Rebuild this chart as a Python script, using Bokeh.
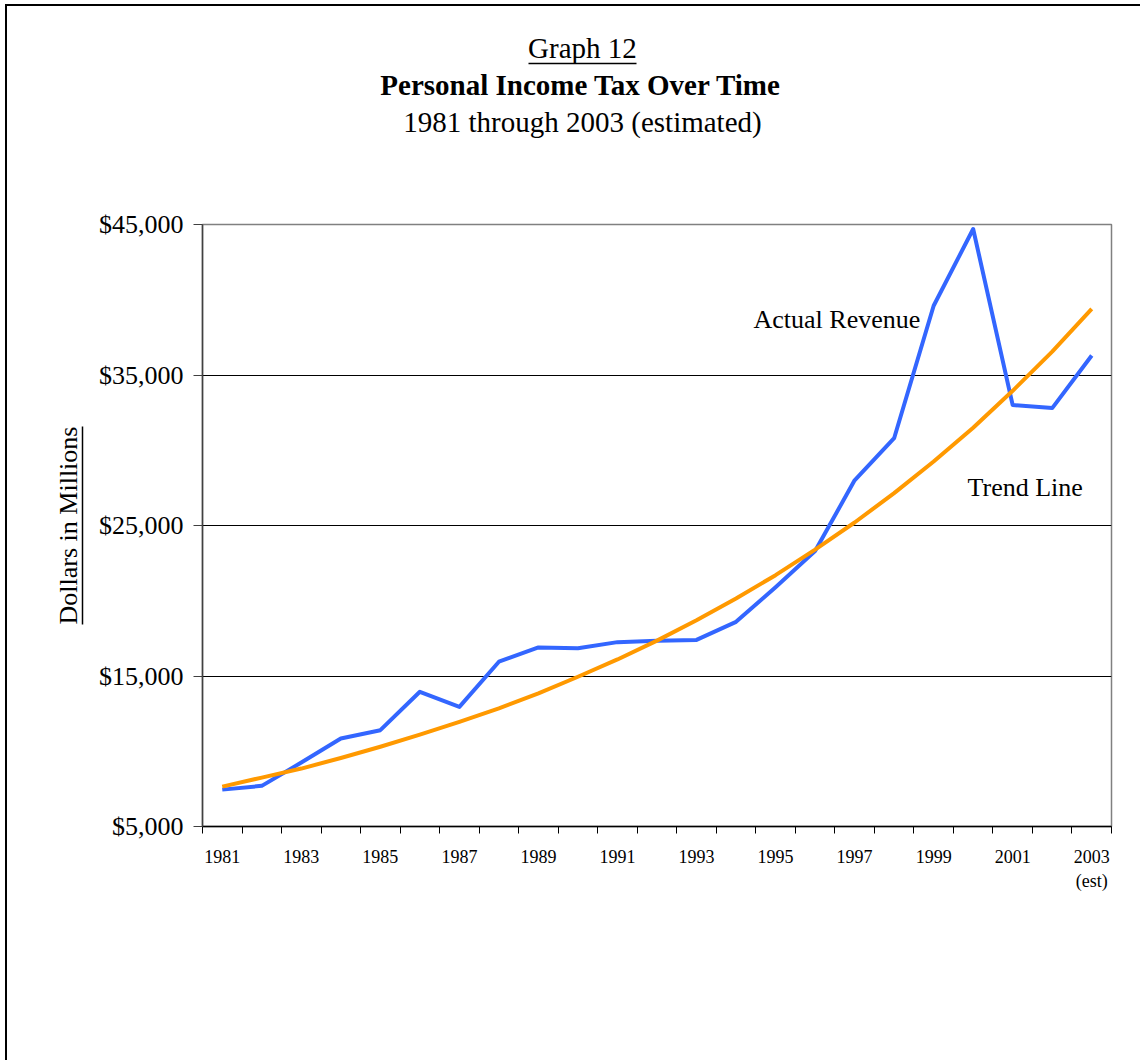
from bokeh.plotting import figure
from bokeh.models import (FixedTicker, NumeralTickFormatter, Label, Title,
                          LinearAxis, Range1d, ColumnDataSource)
from bokeh.embed import file_html
from bokeh.resources import INLINE

# ---------------- data ----------------
years = [1981, 1982, 1983, 1984, 1985, 1986, 1987, 1988, 1989, 1990, 1991, 1992,
         1993, 1994, 1995, 1996, 1997, 1998, 1999, 2000, 2001, 2002, 2003]
year_labels = ["1981", "1982", "1983", "1984", "1985", "1986", "1987", "1988",
               "1989", "1990", "1991", "1992", "1993", "1994", "1995", "1996",
               "1997", "1998", "1999", "2000", "2001", "2002", "2003\n(est)"]
actual_revenue = [7450, 7700, 9250, 10850, 11400, 13950, 12950, 15950, 16900,
                  16850, 17250, 17350, 17400, 18600, 20900, 23300, 28000, 30800,
                  39600, 44700, 33000, 32800, 36300]
trend_line = [7650, 8250, 8850, 9550, 10300, 11100, 11950, 12850, 13850, 14950,
              16100, 17350, 18700, 20150, 21700, 23400, 25200, 27150, 29250,
              31500, 33950, 36550, 39400]
y_ticks = [5000, 15000, 25000, 35000, 45000]

FONT = "Liberation Serif"
BLUE = "#3366FF"
ORANGE = "#FF9900"

W, H = 1140, 1060
LEFT, RIGHT, TOP, BOTTOM = 202, 1111, 224, 826   # frame edges in canvas px
Y0, Y1 = 5000, 45000

n = len(years)
centers = [i + 0.5 for i in range(n)]
src = ColumnDataSource(dict(x=centers, actual=actual_revenue, trend=trend_line))


def dx(px):  # canvas x pixel -> data x
    return (px - LEFT) * n / (RIGHT - LEFT)


def dy(py):  # canvas y pixel -> data y
    return Y0 + (BOTTOM - py) * (Y1 - Y0) / (BOTTOM - TOP)


def spacer(size, tick_at):
    """An invisible axis that only reserves `size` pixels of panel space."""
    return LinearAxis(ticker=FixedTicker(ticks=[tick_at]),
                      major_label_overrides={tick_at: ""},
                      axis_line_color=None, major_tick_line_color=None,
                      major_tick_out=size, major_tick_in=0,
                      major_label_standoff=0, major_label_text_font_size="1px")


p = figure(width=W, height=H, title_location=None,
           x_range=Range1d(0, n), y_range=Range1d(Y0, Y1),
           output_backend="svg", toolbar_location=None,
           min_border_left=LEFT, min_border_right=W - RIGHT,
           min_border_top=TOP, min_border_bottom=H - BOTTOM,
           background_fill_color="white", border_fill_color=None,
           outline_line_color="#808080", outline_line_width=1.5)
# outer page border (only the left and top edges are visible in the reference)
p.styles = {
    "background-color": "#fff",
    "box-shadow": "inset 5px 4px 0 0 #fff, inset 7px 6px 0 0 #000",
}

# x axis: labels at category centres (every other year), ticks at boundaries
xt = FixedTicker(ticks=centers[::2], minor_ticks=list(range(n + 1)))
xa = p.xaxis[0]
xa.ticker = xt
xa.major_label_overrides = {centers[i]: year_labels[i] for i in range(0, n, 2)}
xa.major_tick_out = 0
xa.major_tick_in = 0
xa.minor_tick_out = 7
xa.minor_tick_in = 0
xa.minor_tick_line_color = "black"
xa.axis_line_color = "black"
xa.axis_line_width = 1.5
xa.major_label_text_font = FONT
xa.major_label_text_font_size = "18px"
xa.major_label_text_color = "black"
xa.major_label_standoff = 13

# y axis
yt = FixedTicker(ticks=y_ticks)
ya = p.yaxis[0]
ya.ticker = yt
ya.formatter = NumeralTickFormatter(format="$0,0")
ya.major_tick_out = 9
ya.major_tick_in = 0
ya.major_tick_line_color = "#404040"
ya.axis_line_color = "#404040"
ya.axis_line_width = 1.5
ya.major_label_text_font = FONT
ya.major_label_text_font_size = "26px"
ya.major_label_text_color = "black"
ya.major_label_standoff = 10

# gap between tick labels and the y-axis title
p.add_layout(spacer(13, Y0), "left")
# y-axis title with its underline (axis line limited by bounds)
p.add_layout(LinearAxis(ticker=FixedTicker(ticks=[]),
                        bounds=(dy(624), dy(426)),
                        axis_line_color="black", axis_line_width=1.5,
                        major_tick_out=0, major_tick_in=0,
                        major_label_standoff=0,
                        axis_label="Dollars in Millions",
                        axis_label_standoff=0,
                        axis_label_text_font=FONT,
                        axis_label_text_font_size="26px",
                        axis_label_text_font_style="normal",
                        axis_label_text_color="black"),
             "left")

p.xgrid.visible = False
p.ygrid.ticker = yt
p.ygrid.grid_line_color = "black"
p.ygrid.grid_line_width = 1

# series
p.line(x="x", y="actual", source=src, line_color=BLUE, line_width=4,
       line_join="round")
p.line(x="x", y="trend", source=src, line_color=ORANGE, line_width=4,
       line_join="round")

# series labels
p.add_layout(Label(x=dx(753), y=dy(319), text="Actual Revenue", text_font=FONT,
                   text_font_size="26px", text_color="black",
                   text_align="left", text_baseline="alphabetic"))
p.add_layout(Label(x=dx(967), y=dy(487), text="Trend Line", text_font=FONT,
                   text_font_size="26px", text_color="black",
                   text_align="left", text_baseline="alphabetic"))

# titles, stacked upward from the frame
p.add_layout(spacer(87, 0), "above")
p.add_layout(Title(text="1981 through 2003 (estimated)", text_font=FONT,
                   text_font_size="29px", text_font_style="normal",
                   text_color="black", align="left", offset=402.8 - LEFT,
                   standoff=0), "above")
p.add_layout(spacer(3, 0), "above")
p.add_layout(Title(text="Personal Income Tax Over Time", text_font=FONT,
                   text_font_size="29px", text_font_style="bold",
                   text_color="black", align="left", offset=379.8 - LEFT,
                   standoff=0), "above")
p.add_layout(spacer(3, 0), "above")
p.add_layout(LinearAxis(ticker=FixedTicker(ticks=[]),
                        bounds=(dx(528), dx(636)),
                        axis_line_color="black", axis_line_width=1.5,
                        major_tick_out=0, major_tick_in=0,
                        major_label_standoff=0), "above")
p.add_layout(Title(text="Graph 12", text_font=FONT, text_font_size="29px",
                   text_font_style="normal", text_color="black",
                   align="left", offset=527.6 - LEFT, standoff=0), "above")

open("out.html", "w").write(file_html(p, INLINE))
